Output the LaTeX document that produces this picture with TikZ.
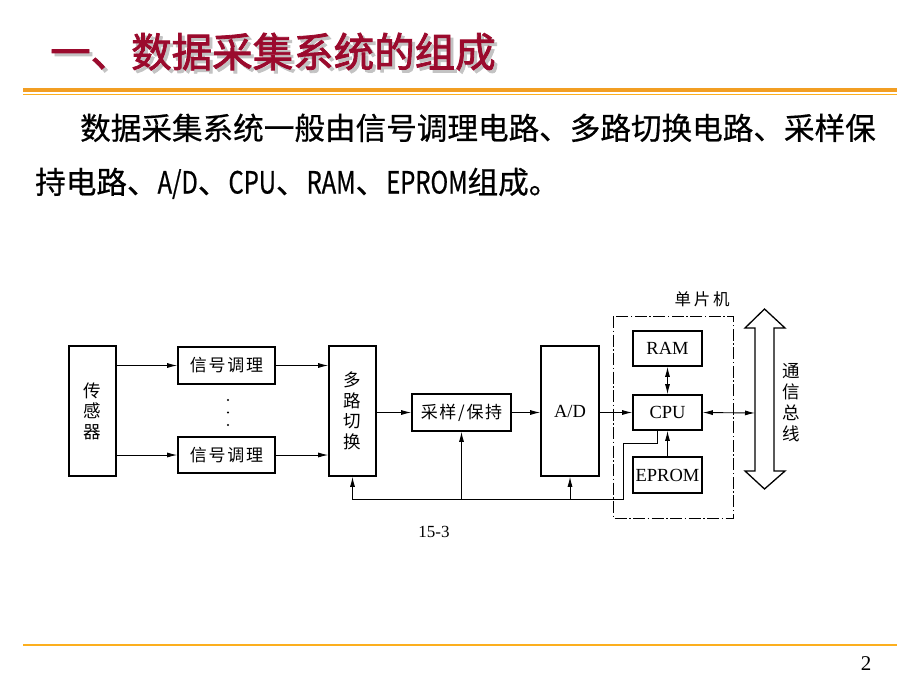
\documentclass[tikz,border=0pt]{standalone}
\usepackage{fontspec}
\setmainfont{Liberation Serif}
\newfontfamily\titlefont[FakeBold=2]{Noto Sans CJK SC}
\newfontfamily\bodyfont[FakeBold=0.6]{Noto Sans CJK SC}
\newfontfamily\bodynarrow[FakeBold=0.6,FakeStretch=0.78]{Noto Sans CJK SC}
\newfontfamily\dcjk[LetterSpace=10]{Noto Sans CJK SC}
\newfontfamily\vcjk{Noto Sans CJK SC}
\usetikzlibrary{arrows.meta}
\definecolor{titlered}{RGB}{155,10,45}
\definecolor{shadowgrey}{RGB}{195,195,195}
\definecolor{lineorange}{RGB}{242,158,35}
\definecolor{lineorange2}{RGB}{252,175,30}
\newcommand{\shadowtext}[1]{\rlap{\hspace{3pt}\raisebox{-3pt}{\textcolor{shadowgrey}{#1}}}\textcolor{titlered}{#1}}
\tikzset{
  blk/.style={draw, line width=1.6pt, rectangle, inner sep=0pt, fill=white},
  cjklabel/.style={font=\dcjk\fontsize{17}{20}\selectfont},
  latlabel/.style={font=\fontsize{18.5}{20}\selectfont},
  vlabel/.style={font=\vcjk\fontsize{17.5}{20.5}\selectfont, align=center},
  conn/.style={line width=0.9pt},
  arr/.style={conn, -{Latex[length=10pt,width=5pt]}},
  darr/.style={conn, {Latex[length=10pt,width=5pt]}-{Latex[length=10pt,width=5pt]}},
  dashdot/.style={line width=0.9pt, dash pattern=on 12pt off 2.5pt on 1.5pt off 2.5pt}
}
\begin{document}
\begin{tikzpicture}[x=1pt,y=-1pt]
\useasboundingbox (0,0) rectangle (920,690);
% title with shadow
\node[anchor=base west, inner sep=0pt, font=\titlefont\fontsize{40.5}{42}\selectfont] (title) at (50,67) {\shadowtext{一、数据采集系统的组成}};
% orange rules
\draw[lineorange, line width=3.5pt] (23,90) -- (897,90);
\draw[lineorange2, line width=1.5pt] (23,94.5) -- (897,94.5);
\draw[lineorange2, line width=2.5pt] (23,645) -- (897,645);
% body text
\node[anchor=base west, inner sep=0pt, font=\bodyfont\fontsize{30.6}{32}\selectfont] (line1) at (80,139.5) {数据采集系统一般由信号调理电路、多路切换电路、采样保};
\node[anchor=base west, inner sep=0pt, font=\bodyfont\fontsize{30.6}{32}\selectfont] (line2) at (35,193.5) {持电路、{\bodynarrow A/D}、{\bodynarrow CPU}、{\bodynarrow RAM}、{\bodynarrow EPROM}组成。};
% blocks
\node[blk, minimum width=47pt, minimum height=130pt] (sensor) at (92.5,411) {};
\node[vlabel] (sensorlbl) at (sensor) {传\\感\\器};
\node[blk, minimum width=97pt, minimum height=37pt, cjklabel] (sig1) at (226.5,365.5) {信号调理};
\node[blk, minimum width=97pt, minimum height=36pt, cjklabel] (sig2) at (226.5,455) {信号调理};
\node[blk, minimum width=47pt, minimum height=130pt] (mux) at (352.5,411) {};
\node[vlabel] (muxlbl) at (mux) {多\\路\\切\\换};
\node[blk, minimum width=99pt, minimum height=37pt, cjklabel] (sh) at (461.5,412.5) {采样/保持};
\node[blk, minimum width=58pt, minimum height=130pt, latlabel] (ad) at (570,411) {A/D};
% MCU dash-dot frame
\draw[dashdot] (613,316) rectangle (733,518);
\node[font=\vcjk\fontsize{16.5}{18}\selectfont] (mcu) at (702,299) {单\,片\,机};
\node[blk, minimum width=69pt, minimum height=35pt, latlabel] (ram) at (667.5,348.5) {RAM};
\node[blk, minimum width=69pt, minimum height=35pt, latlabel] (cpu) at (667.5,412.5) {CPU};
\node[blk, minimum width=69pt, minimum height=36pt, latlabel] (eprom) at (667.5,475) {EPROM};
% dots
\fill (228,400) circle (1.1pt);
\fill (228,412.5) circle (1.1pt);
\fill (228,425) circle (1.1pt);
% bus arrow
\draw[line width=1.3pt, fill=white] (764.5,309) -- (785,328) -- (774,328) -- (774,471) -- (785,471) -- (764.5,489) -- (745,471) -- (755,471) -- (755,328) -- (745,328) -- cycle;
\coordinate (busL) at (755,413);
\node[vlabel, font=\vcjk\fontsize{17.5}{21}\selectfont] (buslbl) at (791,403) {通\\信\\总\\线};
% connectors
\draw[arr] (sig1.west -| sensor.east) -- (sig1.west);
\draw[arr] (sig2.west -| sensor.east) -- (sig2.west);
\draw[arr] (sig1.east) -- (sig1.east -| mux.west);
\draw[arr] (sig2.east) -- (sig2.east -| mux.west);
\draw[arr] (sh.west -| mux.east) -- (sh.west);
\draw[arr] (sh.east) -- (sh.east -| ad.west);
\draw[arr] (cpu.west -| ad.east) -- (cpu.west);
\draw[darr] (ram.south) -- (cpu.north);
\draw[arr] (eprom.north) -- (cpu.south);
\draw[darr] (cpu.east) -- (busL);
\coordinate (fb1) at (623,443);
\coordinate (fb2) at (623,499);
\draw[arr] ([xshift=-10.5pt]cpu.south) |- (fb1) -- (fb2) -| (mux.south);
\draw[arr] (sh.south |- fb2) -- (sh.south);
\draw[arr] (ad.south |- fb2) -- (ad.south);
% captions
\node[font=\fontsize{17}{19}\selectfont] (fig) at (434,532) {15-3};
\node[font=\fontsize{21}{23}\selectfont] (page) at (866,664) {2};
\end{tikzpicture}
\end{document}
